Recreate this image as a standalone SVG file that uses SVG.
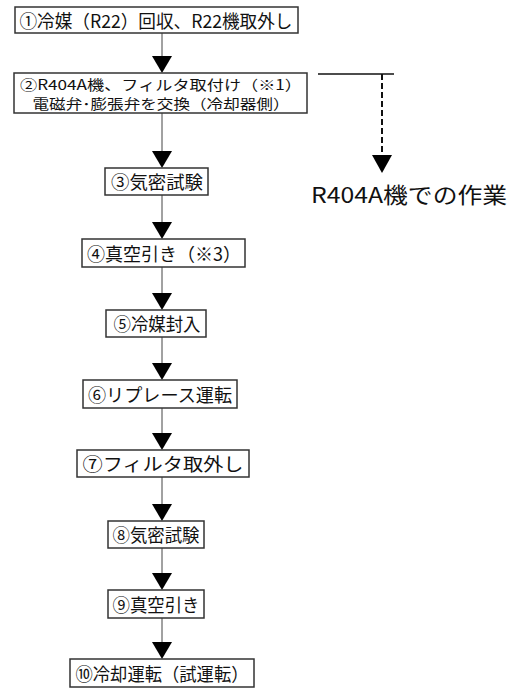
<svg xmlns="http://www.w3.org/2000/svg" width="514" height="689" viewBox="0 0 514 689">
<style>
.box{fill:#fff;stroke:#333;stroke-width:1.5}
.t{font-family:"Noto Sans CJK JP","Noto Sans",sans-serif;font-size:18px;fill:#111;text-anchor:middle;dominant-baseline:central}
.t2{font-size:14px}
.ln{stroke:#444;stroke-width:1;fill:none}
.ah{fill:#000}
</style>
<rect width="514" height="689" fill="#fff"/>
<g id="connectors">
<line class="ln" x1="162" y1="33" x2="162" y2="58"/><polygon class="ah" points="152,56 172,56 162,73"/>
<line class="ln" x1="162" y1="113" x2="162" y2="152"/><polygon class="ah" points="152,151 172,151 162,168"/>
<line class="ln" x1="162" y1="195" x2="162" y2="224"/><polygon class="ah" points="152,222 172,222 162,239"/>
<line class="ln" x1="162" y1="267" x2="162" y2="295"/><polygon class="ah" points="152,293 172,293 162,310"/>
<line class="ln" x1="162" y1="337" x2="162" y2="365"/><polygon class="ah" points="152,363 172,363 162,380"/>
<line class="ln" x1="162" y1="408" x2="162" y2="435"/><polygon class="ah" points="152,433 172,433 162,450"/>
<line class="ln" x1="162" y1="477" x2="162" y2="506"/><polygon class="ah" points="152,504 172,504 162,521"/>
<line class="ln" x1="162" y1="548" x2="162" y2="575"/><polygon class="ah" points="152,573 172,573 162,590"/>
<line class="ln" x1="162" y1="618" x2="162" y2="644"/><polygon class="ah" points="152,642 172,642 162,659"/>
<line x1="318" y1="74" x2="394" y2="74" stroke="#111" stroke-width="1.5"/>
<line x1="382" y1="74" x2="382" y2="157" stroke="#111" stroke-width="2" stroke-dasharray="6,3"/>
<polygon class="ah" points="372,155 392,155 382,173"/>
</g>
<g id="n1"><rect class="box" x="15" y="7" width="283" height="26"/><text class="t" x="156" y="20" textLength="273" lengthAdjust="spacingAndGlyphs">①冷媒（R22）回収、R22機取外し</text></g>
<g id="n2"><rect class="box" x="14" y="73" width="293" height="40"/><text class="t t2" x="161" y="84" textLength="282" lengthAdjust="spacingAndGlyphs">②R404A機、フィルタ取付け（※1）</text><text class="t t2" x="161" y="103" textLength="257" lengthAdjust="spacingAndGlyphs">電磁弁･膨張弁を交換（冷却器側）</text></g>
<g id="n3"><rect class="box" x="105" y="168" width="103" height="27"/><text class="t" x="157" y="181" textLength="92" lengthAdjust="spacingAndGlyphs">③気密試験</text></g>
<g id="n4"><rect class="box" x="82" y="239" width="163" height="28"/><text class="t" x="164" y="253" textLength="154" lengthAdjust="spacingAndGlyphs">④真空引き（※3）</text></g>
<g id="n5"><rect class="box" x="106" y="310" width="100" height="27"/><text class="t" x="157" y="323" textLength="87" lengthAdjust="spacingAndGlyphs">⑤冷媒封入</text></g>
<g id="n6"><rect class="box" x="83" y="380" width="154" height="28"/><text class="t" x="160" y="394" textLength="144" lengthAdjust="spacingAndGlyphs">⑥リプレース運転</text></g>
<g id="n7"><rect class="box" x="77" y="450" width="172" height="27"/><text class="t" x="163" y="463" textLength="161" lengthAdjust="spacingAndGlyphs">⑦フィルタ取外し</text></g>
<g id="n8"><rect class="box" x="108" y="521" width="96" height="27"/><text class="t" x="156" y="534" textLength="87" lengthAdjust="spacingAndGlyphs">⑧気密試験</text></g>
<g id="n9"><rect class="box" x="108" y="590" width="96" height="28"/><text class="t" x="156" y="604" textLength="87" lengthAdjust="spacingAndGlyphs">⑨真空引き</text></g>
<g id="n10"><rect class="box" x="70" y="659" width="184" height="28"/><text class="t" x="162" y="673" textLength="173" lengthAdjust="spacingAndGlyphs">⑩冷却運転（試運転）</text></g>
<g id="label"><text x="409" y="193" font-family="Noto Sans CJK JP,Noto Sans,sans-serif" font-size="22" fill="#111" text-anchor="middle" dominant-baseline="central" textLength="196" lengthAdjust="spacingAndGlyphs">R404A機での作業</text></g>
</svg>
